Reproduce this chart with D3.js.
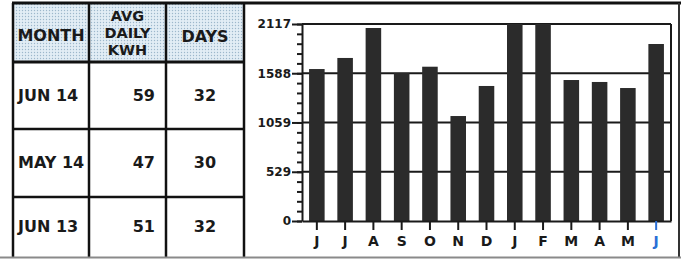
<!DOCTYPE html>
<html>
<head>
<meta charset="utf-8">
<script src="https://cdn.jsdelivr.net/npm/d3@7"></script>
<style>
  body { margin: 0; background: #fff; }
  svg { display: block; }
  .tbl text { font-family: "DejaVu Sans", sans-serif; font-weight: bold; font-size: 16px; fill: #1a1a1a; }
  .axis text { font-family: "DejaVu Sans", sans-serif; font-weight: bold; fill: #1a1a1a; }
  .axis path, .axis line { stroke: #1a1a1a; stroke-width: 2; }
</style>
</head>
<body>
<script>
// table data
var rowMonths = ["JUN 14", "MAY 14", "JUN 13"],
  avgDaily = [59, 47, 51],
  days = [32, 30, 32];

// chart data
var months = ["J", "J", "A", "S", "O", "N", "D", "J", "F", "M", "A", "M", "J"],
  kwh = [1633, 1752, 2074, 1590, 1658, 1128, 1451, 2117, 2117, 1515, 1494, 1429, 1902],
  yTicks = [0, 529, 1059, 1588, 2117];

var W = 681, H = 259;

var svg = d3.select("body").append("svg")
  .attr("width", W)
  .attr("height", H);

// dotted blue fill for the table header
var pat = svg.append("defs").append("pattern")
  .attr("id", "dots")
  .attr("width", 3).attr("height", 3)
  .attr("patternUnits", "userSpaceOnUse");
pat.append("rect").attr("width", 3).attr("height", 3).attr("fill", "#e2edf5");
pat.append("circle").attr("cx", 1.5).attr("cy", 1.5).attr("r", 0.7).attr("fill", "#9db7cb");

// ---------- table ----------
var cols = [13, 89, 166, 244],
  rowsY = [62, 129, 197, 257],
  tbl = svg.append("g").attr("class", "tbl");

tbl.append("rect")
  .attr("x", cols[0]).attr("y", 4)
  .attr("width", cols[3] - cols[0]).attr("height", rowsY[0] - 4)
  .attr("fill", "url(#dots)");

tbl.append("text").attr("x", (cols[0] + cols[1]) / 2).attr("y", 41)
  .attr("text-anchor", "middle").text("MONTH");
["AVG", "DAILY", "KWH"].forEach(function(t, i) {
  tbl.append("text").attr("x", (cols[1] + cols[2]) / 2).attr("y", 21 + i * 17)
    .attr("text-anchor", "middle").style("font-size", "14.5px").text(t);
});
tbl.append("text").attr("x", (cols[2] + cols[3]) / 2).attr("y", 42)
  .attr("text-anchor", "middle").text("DAYS");

rowMonths.forEach(function(m, i) {
  var base = (rowsY[i] + rowsY[i + 1]) / 2 + 5;
  tbl.append("text").attr("x", 18).attr("y", base).text(m);
  tbl.append("text").attr("x", 155).attr("y", base)
    .attr("text-anchor", "end").text(avgDaily[i]);
  tbl.append("text").attr("x", (cols[2] + cols[3]) / 2).attr("y", base)
    .attr("text-anchor", "middle").text(days[i]);
});

// table rules
cols.forEach(function(cx) {
  tbl.append("line").attr("x1", cx).attr("x2", cx).attr("y1", 3).attr("y2", 257)
    .attr("stroke", "#111").attr("stroke-width", 2.5);
});
rowsY.slice(0, 3).forEach(function(ry, i) {
  tbl.append("line").attr("x1", cols[0]).attr("x2", cols[3]).attr("y1", ry).attr("y2", ry)
    .attr("stroke", "#111").attr("stroke-width", i == 0 ? 3 : 2.5);
});
// outer frame
svg.append("line").attr("x1", 12).attr("x2", W).attr("y1", 3).attr("y2", 3)
  .attr("stroke", "#111").attr("stroke-width", 3);
svg.append("line").attr("x1", 679).attr("x2", 679).attr("y1", 3).attr("y2", 257)
  .attr("stroke", "#333").attr("stroke-width", 2);
svg.append("line").attr("x1", 0).attr("x2", W).attr("y1", 257.5).attr("y2", 257.5)
  .attr("stroke", "#8a8a8a").attr("stroke-width", 2);

// ---------- bar chart ----------
var plotL = 302, plotR = 671, plotT = 24, plotB = 221;

var y = d3.scaleLinear().domain([0, 2117]).range([plotB, plotT]).clamp(true);
var x = d3.scaleBand().domain(d3.range(months.length)).range([plotL, plotR])
  .paddingInner(0.45).paddingOuter(0.25);

var chart = svg.append("g");

// grid lines behind the bars
chart.selectAll(".grid")
  .data(yTicks.slice(1))
  .enter().append("line")
  .attr("class", "grid")
  .attr("x1", plotL).attr("x2", plotR)
  .attr("y1", function(d) { return y(d); })
  .attr("y2", function(d) { return y(d); })
  .attr("stroke", "#1a1a1a").attr("stroke-width", 2);

// right frame
chart.append("line").attr("x1", plotR).attr("x2", plotR)
  .attr("y1", plotT).attr("y2", plotB)
  .attr("stroke", "#1a1a1a").attr("stroke-width", 2);

// bars
chart.selectAll(".bar")
  .data(kwh)
  .enter().append("rect")
  .attr("class", "bar")
  .attr("x", function(d, i) { return x(i); })
  .attr("width", x.bandwidth())
  .attr("y", function(d) { return y(d); })
  .attr("height", function(d) { return plotB - y(d); })
  .attr("fill", "#2b2b2b");

// minor ticks on y
var minor = d3.range(0, 21).map(function(i) { return 2117 * i / 20; });
chart.append("g").attr("class", "axis")
  .attr("transform", "translate(" + plotL + ",0)")
  .call(d3.axisLeft(y).tickValues(minor).tickSize(5).tickFormat(""))
  .call(function(g) { g.select(".domain").remove(); });

// y axis
chart.append("g").attr("class", "axis")
  .attr("transform", "translate(" + plotL + ",0)")
  .call(d3.axisLeft(y).tickValues(yTicks).tickSize(10).tickSizeOuter(0).tickPadding(1)
    .tickFormat(d3.format("d")))
  .call(function(g) { g.selectAll("text").style("font-size", "12px"); });

// x axis
var xa = chart.append("g").attr("class", "axis")
  .attr("transform", "translate(0," + plotB + ")")
  .call(d3.axisBottom(x).tickSize(9).tickSizeOuter(0).tickPadding(6)
    .tickFormat(function(i) { return months[i]; }));
xa.selectAll("text")
  .style("font-size", "14px")
  .style("fill", function(d, i) { return i == months.length - 1 ? "#2a6fd6" : "#1a1a1a"; });
xa.selectAll(".tick line")
  .style("stroke", function(d, i) { return i == months.length - 1 ? "#2a6fd6" : "#1a1a1a"; });
</script>
</body>
</html>
